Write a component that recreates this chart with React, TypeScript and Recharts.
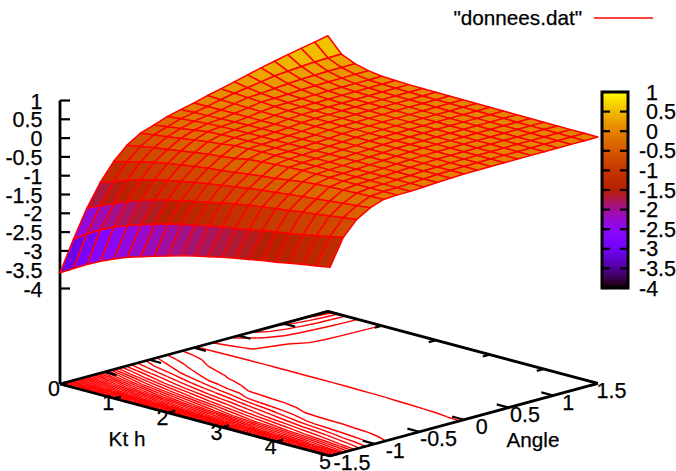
import { ComposedChart, Scatter, XAxis, YAxis, ReferenceArea } from "recharts";

// grid of the surface
const kthValues = [0, 0.25, 0.5, 0.75, 1, 1.25, 1.5, 1.75, 2, 2.25, 2.5, 2.75, 3, 3.25, 3.5, 3.75, 4, 4.25, 4.5, 4.75, 5];
const angleValues = [-1.5, -1.35, -1.2, -1.05, -0.9, -0.75, -0.6, -0.45, -0.3, -0.15, 0, 0.15, 0.3, 0.45, 0.6, 0.75, 0.9, 1.05, 1.2, 1.35, 1.5];

// one row per angle, one column per Kt h
const surfaceZ = [
  [-3.58, -3.37, -3.17, -2.99, -2.83, -2.69, -2.58, -2.47, -2.37, -2.27, -2.18, -2.1, -2.02, -1.95, -1.89, -1.82, -1.77, -1.7, -1.64, -1.58, -1.52],
  [-2.79, -2.55, -2.35, -2.18, -2.04, -1.92, -1.81, -1.71, -1.62, -1.55, -1.48, -1.41, -1.35, -1.29, -1.22, -1.16, -1.1, -1.04, -0.97, -0.9, -0.82],
  [-2.06, -1.9, -1.74, -1.59, -1.47, -1.36, -1.27, -1.19, -1.11, -1.04, -0.96, -0.89, -0.83, -0.78, -0.73, -0.68, -0.63, -0.59, -0.54, -0.49, -0.44],
  [-1.47, -1.35, -1.22, -1.11, -1.02, -0.94, -0.87, -0.8, -0.74, -0.69, -0.63, -0.58, -0.53, -0.49, -0.45, -0.41, -0.38, -0.34, -0.3, -0.27, -0.23],
  [-1.01, -0.92, -0.83, -0.75, -0.68, -0.62, -0.57, -0.52, -0.48, -0.44, -0.39, -0.35, -0.31, -0.26, -0.21, -0.175, -0.155, -0.14, -0.13, -0.115, -0.103],
  [-0.67, -0.61, -0.55, -0.5, -0.44, -0.39, -0.34, -0.3, -0.26, -0.19, -0.16, -0.135, -0.115, -0.102, -0.1, -0.096, -0.095, -0.09, -0.088, -0.086, -0.084],
  [-0.45, -0.4, -0.35, -0.3, -0.25, -0.2, -0.165, -0.115, -0.1, -0.09, -0.085, -0.085, -0.085, -0.085, -0.084, -0.083, -0.082, -0.081, -0.08, -0.08, -0.08],
  [-0.33, -0.28, -0.23, -0.18, -0.125, -0.11, -0.09, -0.085, -0.08, -0.078, -0.076, -0.074, -0.072, -0.07, -0.068, -0.066, -0.064, -0.063, -0.062, -0.061, -0.06],
  [-0.2, -0.165, -0.13, -0.1, -0.085, -0.075, -0.07, -0.066, -0.062, -0.06, -0.058, -0.056, -0.054, -0.052, -0.05, -0.048, -0.046, -0.044, -0.042, -0.04, -0.04],
  [-0.11, -0.095, -0.08, -0.07, -0.06, -0.05, -0.045, -0.042, -0.04, -0.038, -0.036, -0.034, -0.032, -0.03, -0.03, -0.028, -0.026, -0.024, -0.022, -0.02, -0.02],
  [-0.03, -0.028, -0.026, -0.025, -0.024, -0.023, -0.022, -0.021, -0.02, -0.019, -0.018, -0.017, -0.016, -0.015, -0.014, -0.012, -0.011, -0.01, -0.009, -0.007, -0.005],
  [0.07, 0.055, 0.04, 0.03, 0.025, 0.02, 0.018, 0.016, 0.014, 0.012, 0.01, 0.009, 0.008, 0.007, 0.006, 0.005, 0.004, 0.003, 0.002, 0.001, 0],
  [0.15, 0.13, 0.11, 0.085, 0.065, 0.05, 0.04, 0.035, 0.03, 0.027, 0.024, 0.021, 0.018, 0.016, 0.014, 0.012, 0.01, 0.008, 0.006, 0.004, 0.002],
  [0.24, 0.18, 0.125, 0.09, 0.07, 0.055, 0.045, 0.04, 0.035, 0.03, 0.027, 0.024, 0.021, 0.018, 0.016, 0.014, 0.012, 0.01, 0.008, 0.006, 0.004],
  [0.33, 0.24, 0.16, 0.1, 0.08, 0.06, 0.05, 0.044, 0.04, 0.035, 0.03, 0.027, 0.024, 0.021, 0.019, 0.017, 0.015, 0.013, 0.011, 0.008, 0.006],
  [0.42, 0.3, 0.19, 0.125, 0.085, 0.065, 0.055, 0.048, 0.043, 0.038, 0.034, 0.03, 0.027, 0.024, 0.021, 0.019, 0.017, 0.015, 0.013, 0.01, 0.007],
  [0.5, 0.33, 0.21, 0.135, 0.09, 0.07, 0.058, 0.05, 0.046, 0.042, 0.037, 0.033, 0.03, 0.027, 0.024, 0.021, 0.019, 0.017, 0.014, 0.011, 0.008],
  [0.58, 0.36, 0.22, 0.14, 0.092, 0.072, 0.06, 0.052, 0.048, 0.044, 0.04, 0.036, 0.032, 0.029, 0.026, 0.023, 0.02, 0.018, 0.015, 0.012, 0.009],
  [0.65, 0.38, 0.23, 0.145, 0.094, 0.074, 0.062, 0.054, 0.05, 0.046, 0.042, 0.038, 0.034, 0.031, 0.028, 0.025, 0.022, 0.019, 0.016, 0.013, 0.01],
  [0.72, 0.39, 0.235, 0.148, 0.096, 0.076, 0.064, 0.056, 0.052, 0.048, 0.044, 0.04, 0.036, 0.033, 0.03, 0.026, 0.023, 0.02, 0.017, 0.014, 0.011],
  [0.79, 0.4, 0.24, 0.15, 0.098, 0.078, 0.066, 0.058, 0.054, 0.05, 0.046, 0.042, 0.038, 0.034, 0.03, 0.027, 0.024, 0.021, 0.018, 0.015, 0.012],
];

const contourLevels = [
  -3.5, -3.4, -3.3, -3.2, -3.1, -3, -2.9, -2.8, -2.7, -2.6, -2.5, -2.4, -2.3, -2.2, -2.1, -2, -1.9, -1.8, -1.7, -1.6, -1.5, -1.4,
  -1.3, -1.2, -1.1, -1, -0.9, -0.8, -0.7, -0.6, -0.5, -0.4, -0.3, -0.2, -0.1, -0.01, 0.1, 0.22, 0.35, 0.5, 0.65,
];

const zTicks = [1, 0.5, 0, -0.5, -1, -1.5, -2, -2.5, -3, -3.5, -4];
const kthTicks = [0, 1, 2, 3, 4, 5];
const angleTicks = [-1.5, -1, -0.5, 0, 0.5, 1, 1.5];

const WIDTH = 676;
const HEIGHT = 471;
const FONT = "Liberation Sans, Arial, sans-serif";
const TICK_FONT = 21.5;
const TITLE_FONT = 20.7;

// gnuplot's view: x/y on the page for a (Kt h, angle, z) point
const px = (k: number, a: number) => 60 + 54 * k + 89.3 * (a + 1.5);
const surfY = (k: number, a: number, z: number) => 288.5 + 14.4 * k - 24.2 * (a + 1.5) - 37.6 * (z + 4);
const baseY = (k: number, a: number) => 384 + 14.4 * k - 24.2 * (a + 1.5);

// gnuplot default pm3d palette (rgbformulae 7,5,15) over cbrange -4..1
function palette(z: number) {
  const g = Math.min(1, Math.max(0, (z + 4) / 5));
  const r = Math.sqrt(g);
  const gr = g * g * g;
  const b = Math.max(0, Math.sin(2 * Math.PI * g));
  const c = (v: number) => Math.round(v * 255);
  return `rgb(${c(r)},${c(gr)},${c(b)})`;
}

type Quad = { x: number; y: number; off: number[][]; fill: string };
type Seg = { x: number; y: number; dx: number; dy: number };
type Lbl = { x: number; y: number; text: string; anchor?: string; size?: number };

// far cells first so nearer ones paint over them
const quads: Quad[] = [];
for (let i = angleValues.length - 2; i >= 0; i--) {
  for (let j = 0; j < kthValues.length - 1; j++) {
    const corners = [
      [i, j],
      [i, j + 1],
      [i + 1, j + 1],
      [i + 1, j],
    ];
    const pts = corners.map(([r, c]) => [px(kthValues[c], angleValues[r]), surfY(kthValues[c], angleValues[r], surfaceZ[r][c])]);
    const avg = corners.reduce((s, [r, c]) => s + surfaceZ[r][c], 0) / 4;
    quads.push({
      x: pts[0][0],
      y: pts[0][1],
      off: pts.map((p) => [p[0] - pts[0][0], p[1] - pts[0][1]]),
      fill: palette(avg),
    });
  }
}

function seg(x1: number, y1: number, x2: number, y2: number): Seg {
  return { x: x1, y: y1, dx: x2 - x1, dy: y2 - y1 };
}

const contourSegs: Seg[] = [];
for (const level of contourLevels) {
  for (let i = 0; i < angleValues.length - 1; i++) {
    for (let j = 0; j < kthValues.length - 1; j++) {
      const corners = [
        [i, j],
        [i, j + 1],
        [i + 1, j + 1],
        [i + 1, j],
      ];
      const hits: number[][] = [];
      for (let e = 0; e < 4; e++) {
        const [r1, c1] = corners[e];
        const [r2, c2] = corners[(e + 1) % 4];
        const z1 = surfaceZ[r1][c1];
        const z2 = surfaceZ[r2][c2];
        if (z1 < level !== z2 < level) {
          const t = (level - z1) / (z2 - z1);
          const k = kthValues[c1] + t * (kthValues[c2] - kthValues[c1]);
          const a = angleValues[r1] + t * (angleValues[r2] - angleValues[r1]);
          hits.push([px(k, a), baseY(k, a)]);
        }
      }
      if (hits.length >= 2) contourSegs.push(seg(hits[0][0], hits[0][1], hits[1][0], hits[1][1]));
      if (hits.length === 4) contourSegs.push(seg(hits[2][0], hits[2][1], hits[3][0], hits[3][1]));
    }
  }
}

// base box, z axis and ticks
const axisSegs: Seg[] = [
  seg(px(0, -1.5), baseY(0, -1.5), px(5, -1.5), baseY(5, -1.5)),
  seg(px(5, -1.5), baseY(5, -1.5), px(5, 1.5), baseY(5, 1.5)),
  seg(px(5, 1.5), baseY(5, 1.5), px(0, 1.5), baseY(0, 1.5)),
  seg(px(0, 1.5), baseY(0, 1.5), px(0, -1.5), baseY(0, -1.5)),
  seg(60, surfY(0, -1.5, 1), 60, baseY(0, -1.5)),
];
const tickSegs: Seg[] = [];
for (const z of zTicks) tickSegs.push(seg(60, surfY(0, -1.5, z), 70, surfY(0, -1.5, z)));
for (const k of kthTicks) {
  tickSegs.push(seg(px(k, -1.5), baseY(k, -1.5), px(k, -1.42), baseY(k, -1.42)));
  tickSegs.push(seg(px(k, 1.5), baseY(k, 1.5), px(k, 1.42), baseY(k, 1.42)));
}
for (const a of angleTicks) {
  tickSegs.push(seg(px(0, a), baseY(0, a), px(0.22, a), baseY(0.22, a)));
  tickSegs.push(seg(px(5, a), baseY(5, a), px(4.78, a), baseY(4.78, a)));
}

const cbTop = 92;
const cbBottom = 288;
const cbY = (z: number) => cbTop + ((1 - z) / 5) * (cbBottom - cbTop);
const cbSegs: Seg[] = zTicks.flatMap((z) => [seg(602, cbY(z), 610, cbY(z)), seg(628, cbY(z), 620, cbY(z))]);
const cbStops = Array.from({ length: 65 }, (_, n) => n / 64);

const labels: Lbl[] = [
  ...zTicks.map((z) => ({ x: 42.5, y: surfY(0, -1.5, z) + 0.5, text: String(z), anchor: "end" })),
  ...zTicks.map((z) => ({ x: z < 0 ? 639 : 646, y: cbY(z), text: String(z), anchor: "start" })),
  ...kthTicks.map((k) => ({ x: 54 + k * 54.2, y: 388 + k * 14.7, text: String(k) })),
  ...angleTicks.map((a) => ({ x: 352 + (a + 1.5) * 86.5, y: 462 - (a + 1.5) * 23.7, text: String(a) })),
  { x: 127, y: 439, text: "Kt h", size: TITLE_FONT },
  { x: 533, y: 440, text: "Angle", size: TITLE_FONT },
  { x: 582, y: 18, text: '"donnees.dat"', anchor: "end", size: TITLE_FONT },
];

const legendSeg: Seg[] = [seg(594, 18, 653, 18)];

const quadShape = (p: any) => {
  const { cx, cy, payload } = p;
  const points = payload.off.map((o: number[]) => `${cx + o[0]},${cy + o[1]}`).join(" ");
  return <polygon points={points} fill={payload.fill} stroke="#ff0000" strokeWidth={1.5} strokeLinejoin="round" />;
};

const segShape = (color: string, width: number) => (p: any) => (
  <line x1={p.cx} y1={p.cy} x2={p.cx + p.payload.dx} y2={p.cy + p.payload.dy} stroke={color} strokeWidth={width} />
);

const labelShape = (p: any) => (
  <text
    x={p.cx}
    y={p.cy}
    dy="0.35em"
    textAnchor={p.payload.anchor ?? "middle"}
    fontFamily={FONT}
    fontSize={p.payload.size ?? TICK_FONT}
    fill="#000"
    stroke="#000"
    strokeWidth={0.25}
  >
    {p.payload.text}
  </text>
);

export default function App() {
  return (
    <div style={{ position: "absolute", left: 0, top: 0, width: WIDTH, height: HEIGHT, overflow: "hidden", background: "#fff" }}>
      <ComposedChart width={WIDTH} height={HEIGHT} margin={{ top: 0, right: 0, bottom: 0, left: 0 }}>
        <defs>
          <linearGradient id="cbFill" x1="0" y1="0" x2="0" y2="1">
            {cbStops.map((s) => (
              <stop key={s} offset={s} stopColor={palette(1 - s * 5)} />
            ))}
          </linearGradient>
        </defs>
        <XAxis type="number" dataKey="x" domain={[0, WIDTH]} hide />
        <YAxis type="number" dataKey="y" domain={[0, HEIGHT]} reversed hide />
        <Scatter data={contourSegs} shape={segShape("#ff0000", 1.45)} isAnimationActive={false} />
        <Scatter data={axisSegs} shape={segShape("#000000", 2.8)} isAnimationActive={false} />
        <Scatter data={tickSegs} shape={segShape("#000000", 2.2)} isAnimationActive={false} />
        <Scatter data={quads} shape={quadShape} isAnimationActive={false} />
        <ReferenceArea x1={602} x2={628} y1={cbTop} y2={cbBottom} fill="url(#cbFill)" fillOpacity={1} stroke="#000" strokeWidth={3} />
        <Scatter data={cbSegs} shape={segShape("#000000", 2.2)} isAnimationActive={false} />
        <Scatter data={legendSeg} shape={segShape("#ff0000", 1.5)} isAnimationActive={false} />
        <Scatter data={labels} shape={labelShape} isAnimationActive={false} />
      </ComposedChart>
    </div>
  );
}
